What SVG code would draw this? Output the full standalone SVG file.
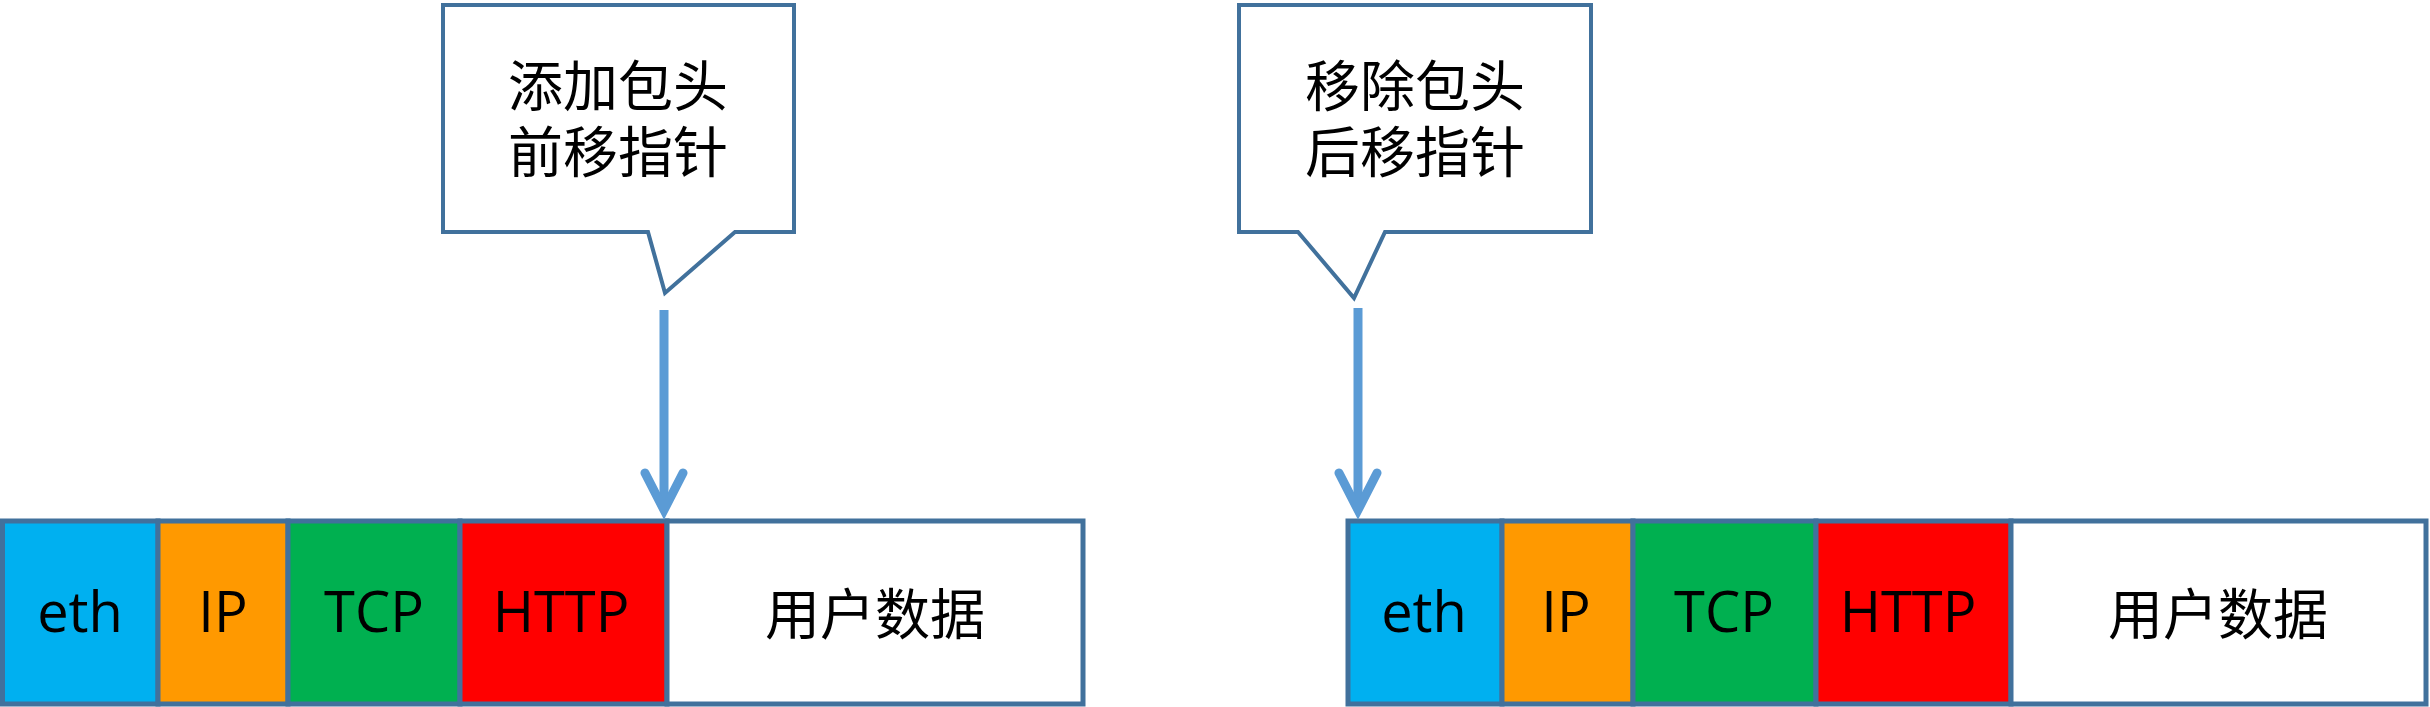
<svg xmlns="http://www.w3.org/2000/svg" width="2430" height="707" viewBox="0 0 2430 707">
<style>
.callout{fill:#FFFFFF;stroke:#41719C;stroke-width:4;stroke-linejoin:miter}
.cell{stroke:#41719C;stroke-width:5}
.lat{font-family:"Open Sans","Noto Sans",sans-serif;font-size:56px;fill:#000;text-anchor:middle}
.cjk{font-family:"Noto Sans CJK SC","Noto Sans CJK JP",sans-serif;font-size:55px;fill:#000;text-anchor:middle}
.conn{fill:none;stroke:#5B9BD5;stroke-width:9}
.head{fill:none;stroke:#5B9BD5;stroke-width:9;stroke-linecap:round;stroke-linejoin:miter}
</style>
<rect width="2430" height="707" fill="#FFFFFF"/>

<g id="callout-add">
<path class="callout" d="M443,5 H794 V232 H735 L665,293 L648,232 H443 Z"/>
<text class="cjk" x="618" y="106"><tspan x="618" y="106">添加包头</tspan><tspan x="618" y="172">前移指针</tspan></text>
</g>

<g id="callout-remove">
<path class="callout" d="M1239,5 H1591 V232 H1385 L1354,298 L1298,232 H1239 Z"/>
<text class="cjk" x="1415" y="106"><tspan x="1415" y="106">移除包头</tspan><tspan x="1415" y="172">后移指针</tspan></text>
</g>

<g id="packet-left">
<g id="left-eth"><rect class="cell" x="2.5" y="521" width="155.5" height="183" fill="#00B0F0"/><text class="lat" x="80" y="632">eth</text></g>
<g id="left-ip"><rect class="cell" x="158" y="521" width="130" height="183" fill="#FF9900"/><text class="lat" x="223" y="632">IP</text></g>
<g id="left-tcp"><rect class="cell" x="288" y="521" width="172" height="183" fill="#00B050"/><text class="lat" x="374" y="632">TCP</text></g>
<g id="left-http"><rect class="cell" x="460" y="521" width="207" height="183" fill="#FF0000"/><text class="lat" x="561" y="632">HTTP</text></g>
<g id="left-data"><rect class="cell" x="667" y="521" width="416" height="183" fill="#FFFFFF"/><text class="cjk" x="875" y="634">用户数据</text></g>
</g>

<g id="packet-right">
<g id="right-eth"><rect class="cell" x="1348" y="521" width="154" height="183" fill="#00B0F0"/><text class="lat" x="1424" y="632">eth</text></g>
<g id="right-ip"><rect class="cell" x="1502" y="521" width="131" height="183" fill="#FF9900"/><text class="lat" x="1566" y="632">IP</text></g>
<g id="right-tcp"><rect class="cell" x="1633" y="521" width="183" height="183" fill="#00B050"/><text class="lat" x="1724" y="632">TCP</text></g>
<g id="right-http"><rect class="cell" x="1816" y="521" width="195" height="183" fill="#FF0000"/><text class="lat" x="1908" y="632">HTTP</text></g>
<g id="right-data"><rect class="cell" x="2011" y="521" width="415" height="183" fill="#FFFFFF"/><text class="cjk" x="2218" y="634">用户数据</text></g>
</g>

<g id="connectors">
<line class="conn" x1="664" y1="310" x2="664" y2="508"/>
<polyline class="head" points="645,473 664,510 683,473"/>
<line class="conn" x1="1358" y1="308" x2="1358" y2="508"/>
<polyline class="head" points="1339,473 1358,510 1377,473"/>
</g>
</svg>
